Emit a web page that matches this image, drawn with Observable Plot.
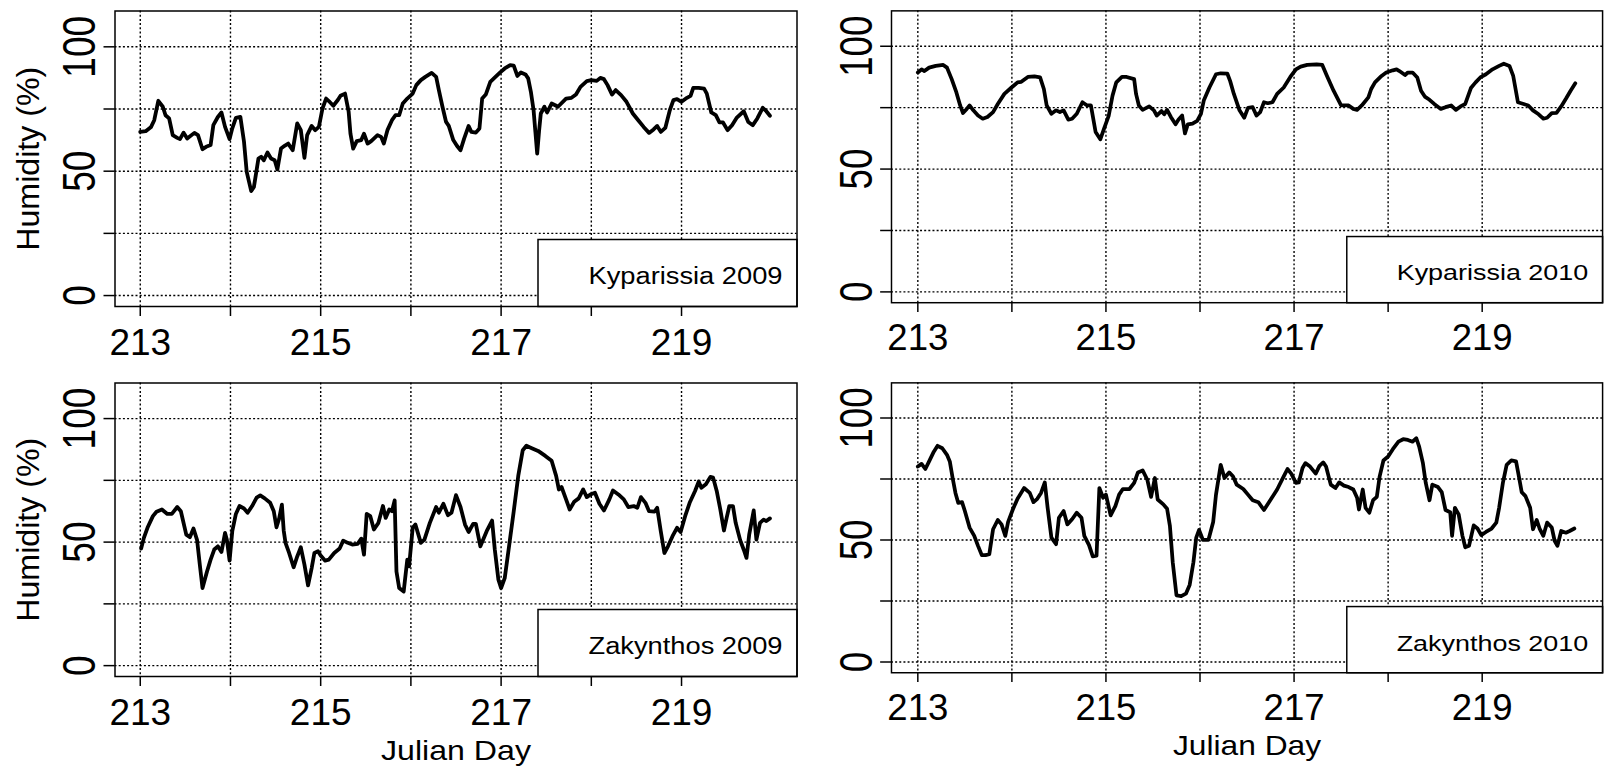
<!DOCTYPE html>
<html><head><meta charset="utf-8">
<script src="https://cdn.jsdelivr.net/npm/d3@7"></script>
<script src="https://cdn.jsdelivr.net/npm/@observablehq/plot@0.6"></script>
<style>
html,body{margin:0;padding:0;background:#fff;overflow:hidden;}
#root{position:relative;width:1610px;height:769px;overflow:hidden;background:#fff;}
.panel{position:absolute;}
</style></head><body><div id="root"></div>
<script>
// ---- data: [Julian day, relative humidity %] ----
const kyparissia2009 = [[213.0,65.8],[213.06,66.1],[213.12,67.8],[213.155,70.5],[213.2,78.3],[213.25,75.9],[213.28,72.5],[213.32,71.2],[213.36,64.5],[213.41,63.4],[213.44,62.9],[213.48,65.5],[213.52,63.1],[213.6,65.4],[213.64,64.5],[213.69,58.8],[213.73,59.8],[213.78,60.5],[213.81,68.5],[213.86,71.8],[213.9,73.6],[213.94,67.8],[213.99,62.9],[214.02,67.2],[214.06,71.4],[214.11,71.8],[214.15,61.8],[214.18,49.7],[214.23,42.0],[214.26,43.7],[214.31,55.1],[214.34,55.8],[214.37,54.4],[214.41,57.5],[214.45,55.1],[214.49,54.4],[214.52,50.7],[214.56,59.1],[214.6,60.2],[214.64,61.1],[214.69,58.4],[214.74,69.2],[214.78,66.5],[214.82,55.4],[214.85,64.5],[214.9,68.2],[214.94,66.5],[214.98,67.8],[215.02,75.2],[215.06,79.2],[215.09,78.2],[215.14,76.3],[215.19,78.6],[215.22,80.3],[215.27,81.2],[215.31,73.9],[215.33,65.1],[215.36,59.1],[215.4,62.1],[215.45,62.5],[215.48,65.1],[215.52,61.1],[215.56,62.1],[215.63,64.5],[215.67,63.8],[215.7,61.1],[215.74,66.5],[215.79,70.5],[215.83,72.5],[215.87,72.5],[215.91,77.2],[215.96,79.2],[216.02,81.2],[216.06,84.6],[216.11,86.6],[216.16,87.9],[216.23,89.5],[216.28,87.9],[216.31,82.6],[216.35,75.9],[216.39,69.8],[216.42,68.2],[216.47,62.5],[216.51,60.2],[216.55,58.4],[216.59,63.1],[216.64,68.2],[216.67,65.8],[216.72,65.5],[216.76,67.2],[216.79,79.2],[216.83,80.8],[216.88,85.9],[216.92,87.3],[216.99,89.7],[217.04,91.3],[217.1,92.6],[217.14,92.4],[217.18,88.3],[217.22,89.7],[217.27,88.9],[217.3,87.3],[217.33,81.9],[217.36,74.5],[217.38,65.8],[217.4,57.1],[217.42,65.8],[217.44,73.2],[217.48,75.9],[217.51,73.6],[217.56,77.2],[217.6,76.5],[217.63,75.9],[217.72,79.2],[217.78,79.5],[217.83,80.8],[217.88,83.9],[217.95,86.2],[218.0,86.6],[218.06,86.3],[218.1,87.5],[218.14,87.0],[218.18,84.6],[218.23,80.8],[218.27,82.6],[218.33,80.6],[218.39,77.9],[218.46,73.2],[218.52,70.5],[218.58,67.8],[218.64,65.4],[218.69,66.8],[218.73,68.2],[218.77,65.8],[218.82,67.4],[218.87,74.5],[218.91,78.6],[218.95,79.0],[219.0,77.9],[219.06,79.5],[219.1,80.3],[219.13,83.5],[219.19,83.5],[219.25,83.2],[219.28,81.2],[219.33,73.6],[219.38,72.5],[219.42,69.6],[219.46,69.6],[219.51,66.5],[219.56,68.5],[219.61,71.4],[219.69,74.1],[219.74,69.8],[219.79,68.5],[219.84,71.2],[219.9,75.5],[219.94,74.1],[219.98,72.3]];

const kyparissia2010 = [[213.0,89.3],[213.04,90.6],[213.07,89.9],[213.12,91.3],[213.19,92.0],[213.27,92.4],[213.31,91.3],[213.36,86.6],[213.41,81.2],[213.45,75.9],[213.48,72.8],[213.52,74.5],[213.55,75.9],[213.59,73.9],[213.64,71.8],[213.69,70.5],[213.74,71.2],[213.8,73.2],[213.85,76.5],[213.92,80.6],[213.99,83.0],[214.06,85.3],[214.1,85.5],[214.17,87.5],[214.24,87.7],[214.3,87.3],[214.34,82.6],[214.37,75.9],[214.42,72.5],[214.47,73.9],[214.51,73.2],[214.55,73.9],[214.6,70.1],[214.64,70.5],[214.69,72.5],[214.75,77.2],[214.8,75.9],[214.84,75.9],[214.89,65.1],[214.94,62.1],[214.98,66.5],[215.03,71.8],[215.07,79.9],[215.11,85.3],[215.17,87.5],[215.22,87.5],[215.3,86.6],[215.32,80.6],[215.35,75.9],[215.39,74.1],[215.46,75.5],[215.51,73.9],[215.54,71.8],[215.59,73.6],[215.62,72.3],[215.65,74.1],[215.69,71.2],[215.74,68.2],[215.77,70.1],[215.81,71.8],[215.84,64.5],[215.87,68.2],[215.92,68.5],[215.97,69.6],[216.01,72.5],[216.04,77.9],[216.1,83.2],[216.17,88.6],[216.22,89.0],[216.29,88.9],[216.32,85.9],[216.36,80.6],[216.42,73.9],[216.47,70.9],[216.51,74.9],[216.56,75.2],[216.6,71.8],[216.64,73.2],[216.68,77.2],[216.72,76.8],[216.77,77.2],[216.82,80.6],[216.89,83.2],[216.96,87.5],[217.02,90.6],[217.07,91.7],[217.14,92.4],[217.24,92.6],[217.3,92.4],[217.35,87.9],[217.42,81.9],[217.5,75.9],[217.58,75.9],[217.63,74.5],[217.67,74.1],[217.72,75.9],[217.79,79.2],[217.82,82.6],[217.86,85.3],[217.93,87.9],[217.98,89.3],[218.05,90.2],[218.09,90.6],[218.12,89.9],[218.18,88.3],[218.21,89.3],[218.26,89.3],[218.31,87.3],[218.35,81.9],[218.39,79.5],[218.44,78.2],[218.49,76.5],[218.56,74.5],[218.61,75.2],[218.67,75.9],[218.72,74.1],[218.77,75.5],[218.82,76.5],[218.88,83.0],[218.93,85.3],[218.98,87.3],[219.04,88.6],[219.11,90.6],[219.18,92.0],[219.23,92.9],[219.29,92.0],[219.33,87.9],[219.38,77.2],[219.44,76.5],[219.49,75.9],[219.54,73.9],[219.6,72.3],[219.65,70.5],[219.69,70.9],[219.74,72.8],[219.79,72.9],[219.84,75.5],[219.89,78.6],[219.94,81.9],[219.99,84.9]];

const zakynthos2009 = [[213.01,47.4],[213.04,51.7],[213.08,55.8],[213.14,60.5],[213.18,62.3],[213.24,63.2],[213.3,61.4],[213.35,61.4],[213.41,64.2],[213.45,62.5],[213.51,53.0],[213.55,52.0],[213.59,55.5],[213.63,50.8],[213.66,40.9],[213.69,31.4],[213.74,38.1],[213.78,42.9],[213.82,47.0],[213.86,48.3],[213.9,46.0],[213.94,53.7],[213.96,51.0],[213.99,42.5],[214.02,54.4],[214.06,61.4],[214.1,64.6],[214.15,63.6],[214.19,61.9],[214.24,64.6],[214.29,68.0],[214.33,68.9],[214.38,67.7],[214.44,65.9],[214.48,62.5],[214.51,56.0],[214.54,59.6],[214.57,65.2],[214.59,54.7],[214.61,49.7],[214.65,45.6],[214.7,39.8],[214.74,44.2],[214.78,47.9],[214.82,40.9],[214.86,32.5],[214.9,39.5],[214.93,45.6],[214.97,46.3],[215.0,44.6],[215.05,42.5],[215.09,42.9],[215.15,45.6],[215.21,47.4],[215.25,50.6],[215.3,49.7],[215.35,49.0],[215.41,49.3],[215.45,51.4],[215.48,44.9],[215.51,61.4],[215.55,60.5],[215.59,55.1],[215.64,57.8],[215.69,64.6],[215.72,59.8],[215.76,63.2],[215.79,62.5],[215.82,66.9],[215.84,38.1],[215.87,31.4],[215.92,30.0],[215.96,42.9],[215.98,40.2],[216.02,55.8],[216.05,57.1],[216.11,49.7],[216.15,51.0],[216.21,57.8],[216.28,64.2],[216.31,61.9],[216.36,65.5],[216.41,60.9],[216.45,61.9],[216.5,69.0],[216.55,64.2],[216.6,57.1],[216.64,54.1],[216.69,57.4],[216.72,57.4],[216.77,48.3],[216.84,54.4],[216.9,58.7],[216.93,47.0],[216.97,34.8],[217.0,31.4],[217.04,35.4],[217.09,48.8],[217.14,62.5],[217.19,76.8],[217.24,87.2],[217.28,89.0],[217.34,88.0],[217.41,86.9],[217.49,84.9],[217.56,82.9],[217.61,76.8],[217.64,71.3],[217.67,72.3],[217.72,67.3],[217.76,63.2],[217.81,66.3],[217.86,67.7],[217.91,71.3],[217.95,68.2],[217.99,69.3],[218.04,70.0],[218.09,65.5],[218.14,62.8],[218.2,67.3],[218.24,70.9],[218.3,69.3],[218.36,67.3],[218.41,64.2],[218.47,64.6],[218.51,63.9],[218.55,68.2],[218.6,65.9],[218.64,62.5],[218.7,62.3],[218.73,63.9],[218.77,54.4],[218.81,45.6],[218.85,48.3],[218.9,52.4],[218.95,55.8],[218.99,54.1],[219.04,60.5],[219.09,65.9],[219.15,70.7],[219.19,74.5],[219.22,72.0],[219.27,73.4],[219.32,76.4],[219.35,76.1],[219.39,70.7],[219.43,63.2],[219.47,54.7],[219.5,59.8],[219.53,64.6],[219.57,64.6],[219.6,57.8],[219.65,50.8],[219.69,46.9],[219.72,43.6],[219.75,53.0],[219.8,62.8],[219.83,51.0],[219.87,57.8],[219.91,59.1],[219.94,58.5],[219.98,59.6]];

const zakynthos2010 = [[213.0,80.1],[213.04,81.2],[213.08,79.1],[213.12,82.2],[213.17,86.2],[213.21,88.6],[213.26,87.6],[213.31,84.9],[213.34,82.2],[213.37,75.4],[213.4,69.3],[213.43,65.2],[213.47,65.5],[213.5,61.9],[213.55,55.1],[213.6,51.7],[213.64,47.6],[213.68,43.8],[213.72,43.8],[213.76,44.2],[213.8,54.4],[213.85,58.2],[213.89,56.4],[213.93,51.7],[213.96,57.4],[214.01,62.5],[214.06,66.9],[214.13,71.3],[214.19,69.3],[214.23,65.5],[214.27,66.9],[214.31,69.3],[214.35,73.6],[214.38,63.2],[214.42,51.0],[214.47,48.3],[214.5,59.1],[214.55,61.9],[214.59,56.4],[214.64,58.5],[214.69,61.2],[214.74,59.1],[214.77,51.7],[214.82,47.9],[214.86,43.3],[214.9,43.6],[214.93,71.3],[214.97,67.3],[215.0,68.6],[215.05,60.1],[215.1,63.9],[215.14,68.6],[215.18,70.9],[215.25,70.9],[215.3,73.4],[215.34,77.7],[215.39,78.5],[215.44,74.7],[215.48,67.7],[215.52,75.4],[215.55,66.6],[215.61,64.6],[215.65,62.8],[215.68,55.8],[215.71,40.9],[215.75,27.3],[215.8,27.0],[215.85,28.0],[215.89,31.6],[215.93,40.9],[215.96,51.0],[215.99,54.1],[216.03,50.1],[216.09,50.1],[216.14,57.4],[216.17,68.6],[216.22,80.8],[216.26,75.4],[216.31,77.7],[216.35,76.1],[216.39,72.7],[216.46,70.9],[216.51,68.6],[216.56,66.3],[216.62,65.5],[216.68,62.3],[216.74,65.9],[216.82,70.7],[216.89,76.1],[216.93,79.1],[216.97,77.2],[217.02,73.4],[217.05,73.6],[217.09,79.5],[217.12,81.5],[217.17,80.1],[217.23,77.2],[217.27,80.4],[217.31,81.8],[217.34,80.1],[217.39,72.7],[217.44,71.3],[217.48,73.6],[217.53,72.3],[217.58,71.7],[217.63,70.7],[217.67,67.3],[217.69,62.5],[217.73,70.7],[217.76,63.2],[217.8,61.2],[217.84,66.3],[217.88,67.7],[217.91,76.1],[217.95,82.6],[218.0,84.2],[218.05,87.2],[218.11,90.3],[218.16,91.3],[218.21,91.0],[218.26,90.3],[218.3,91.7],[218.33,88.3],[218.37,81.5],[218.4,73.4],[218.44,66.3],[218.47,72.7],[218.53,71.7],[218.57,69.6],[218.61,62.3],[218.66,61.4],[218.68,51.7],[218.71,63.2],[218.75,60.5],[218.79,51.7],[218.82,47.0],[218.86,47.6],[218.91,56.0],[218.95,54.7],[218.99,52.0],[219.04,53.3],[219.1,54.7],[219.15,57.1],[219.18,63.2],[219.22,73.4],[219.26,80.8],[219.31,82.6],[219.36,82.2],[219.39,76.1],[219.42,69.6],[219.46,68.0],[219.51,63.2],[219.54,54.4],[219.58,58.2],[219.61,54.7],[219.65,51.7],[219.69,57.1],[219.74,55.1],[219.77,49.7],[219.8,47.6],[219.84,53.7],[219.89,53.0],[219.93,53.7],[219.98,54.7]];

const panelTitles = ["Kyparissia 2009", "Kyparissia 2010", "Zakynthos 2009", "Zakynthos 2010"];
const xTicks = [213, 214, 215, 216, 217, 218, 219];
const xTickLabels = [213, 215, 217, 219];
const yTicks = [0, 25, 50, 75, 100];
const yTickLabels = [0, 50, 100];
const yLabel = "Humidity (%)";
const xLabel = "Julian Day";

// ---- layout ----
const FONT = '"Liberation Sans", Arial, sans-serif';
const xDomain = [212.72, 220.28];
const yDomain = [-4.4, 114.4];
const panels = [
  {title: panelTitles[0], data: kyparissia2009, left: 0,   top: 0,   width: 810, height: 380, mL: 114.5, mR: 13.5, mT: 10.5, mB: 74, ylab: true,  xlab: false},
  {title: panelTitles[1], data: kyparissia2010, left: 810, top: 0,   width: 810, height: 380, mL: 82,    mR: 8,    mT: 10.5, mB: 74, ylab: false, xlab: false},
  {title: panelTitles[2], data: zakynthos2009,  left: 0,   top: 372, width: 810, height: 397, mL: 114.5, mR: 13.5, mT: 10.5, mB: 93, ylab: true,  xlab: true},
  {title: panelTitles[3], data: zakynthos2010,  left: 810, top: 372, width: 810, height: 397, mL: 82,    mR: 8,    mT: 10.5, mB: 93, ylab: false, xlab: true}
];
// widths (px) the reference text occupies along its reading direction
const stretch = {"Humidity (%)": 184, "Julian Day": 150};
panelTitles.forEach(t => stretch[t] = 194);
yTickLabels.forEach(v => stretch[String(v)] = 20.6 * String(v).length);

const root = document.getElementById("root");
for (const p of panels) {
  const fw = p.width - p.mL - p.mR, fh = p.height - p.mT - p.mB;
  const dotted = {stroke: "black", strokeOpacity: 1, strokeWidth: 1.4, strokeDasharray: "2,2.2"};
  const chart = Plot.plot({
    width: p.width, height: p.height,
    marginLeft: p.mL, marginRight: p.mR, marginTop: p.mT, marginBottom: p.mB,
    x: {domain: xDomain},
    y: {domain: yDomain},
    style: {fontFamily: FONT, background: "white", color: "black", overflow: "visible"},
    marks: [
      Plot.gridX(xTicks, dotted),
      Plot.gridY(yTicks, dotted),
      Plot.line(p.data, {x: d => d[0], y: d => d[1], stroke: "black", strokeWidth: 3.8, strokeLinejoin: "round", strokeLinecap: "round"}),
      Plot.frame({fill: "white", stroke: "black", strokeWidth: 1.5, insetLeft: fw - 259, insetTop: fh - 67}),
      Plot.text([p.title], {frameAnchor: "bottom-right", dx: -14.5, dy: -22.5, textAnchor: "end", lineAnchor: "bottom", fontSize: 23, fill: "black"}),
      Plot.frame({stroke: "black", strokeWidth: 1.5}),
      Plot.axisX(xTicks, {tickSize: 10, tickPadding: 12, tickFormat: d => xTickLabels.includes(d) ? String(d) : "", fontSize: 37, strokeWidth: 1.5, label: null}),
      Plot.axisY(yTicks, {tickSize: 11, tickPadding: 9, tickRotate: -90, tickFormat: d => yTickLabels.includes(d) ? String(d) : "", fontSize: 46, strokeWidth: 1.5, label: null}),
      p.ylab ? Plot.text([yLabel], {frameAnchor: "left", rotate: -90, dx: -76, lineAnchor: "bottom", textAnchor: "middle", fontSize: 32, fill: "black"}) : null,
      p.xlab ? Plot.text([xLabel], {frameAnchor: "bottom", dy: 83, lineAnchor: "bottom", textAnchor: "middle", fontSize: 28, fill: "black"}) : null
    ]
  });
  d3.select(chart).selectAll("text").each(function() {
    const t = this.textContent;
    if (stretch[t]) {
      this.setAttribute("textLength", stretch[t]);
      this.setAttribute("lengthAdjust", "spacingAndGlyphs");
    }
  });
  const holder = document.createElement("div");
  holder.className = "panel";
  holder.style.left = p.left + "px";
  holder.style.top = p.top + "px";
  holder.appendChild(chart);
  root.appendChild(holder);
}
</script></body></html>
